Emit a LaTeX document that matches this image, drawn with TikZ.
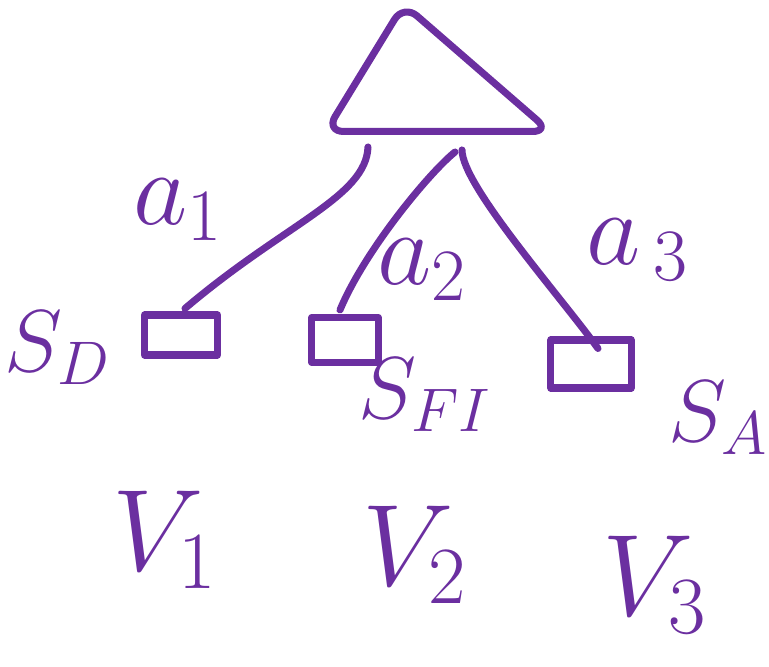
\RequirePackage{fix-cm}
\documentclass[tikz,border=0pt]{standalone}
\usetikzlibrary{positioning,shapes.geometric}
\definecolor{Pen}{HTML}{6B2FA0}
\tikzset{
  pen/.style={draw=Pen,line width=2pt,line cap=round,line join=round},
  leaf/.style={pen,rectangle,inner sep=0pt},
  lbl/.style={text=Pen,inner sep=0pt},
}
\newcommand{\fsz}[1]{\fontsize{#1}{#1}\selectfont}

\begin{document}
\begin{tikzpicture}[x=0.01cm,y=-0.01cm]
  \useasboundingbox (0,0) rectangle (769,667);
  % root
  \node[pen,isosceles triangle,shape border rotate=90,
        isosceles triangle stretches,rounded corners=5pt,
        minimum width=2.24cm,minimum height=1.27cm,inner sep=0pt,
        transform shape,xslant=-0.27,anchor=south] (root) at (439,135) {};
  % leaves
  \node[leaf,minimum width=0.73cm,minimum height=0.40cm] (v1) at (181,335) {};
  \node[leaf,minimum width=0.66cm,minimum height=0.45cm] (v2) at (345,340) {};
  \node[leaf,minimum width=0.80cm,minimum height=0.48cm] (v3) at (591,364) {};
  % edges
  \draw[pen] ([shift={(-71,12)}]root.south)
        .. controls +(-2,50) and +(100,-85) .. ([shift={(4,-3)}]v1.north);
  \draw[pen] ([shift={(16,17)}]root.south)
        .. controls +(-25,20) and +(25,-60) .. ([shift={(-5,-4)}]v2.north);
  \draw[pen] ([shift={(23,15)}]root.south)
        .. controls +(0,35) and +(-40,-55) .. ([shift={(7,12)}]v3.north);
  % edge labels
  \node[lbl,font=\fsz{30}] (a1) at (178,210) {$a_1$};
  \node[lbl,font=\fsz{30}] (a2) at (422,270) {$a_2$};
  \node[lbl,font=\fsz{30}] (a3) at (638,250) {$a_{\,3}$};
  % leaf labels
  \node[lbl,font=\fsz{25}] (s1) at (58,348) {$S_D$};
  \node[lbl,font=\fsz{25}] (s2) at (425,395) {$S_{FI}$};
  \node[lbl,font=\fsz{25}] (s3) at (718,418) {$S_A$};
  \node[lbl,font=\fsz{33}] (n1) at (165,540) {$V_1$};
  \node[lbl,font=\fsz{33}] (n2) at (415,555) {$V_2$};
  \node[lbl,font=\fsz{33}] (n3) at (655,585) {$V_3$};
\end{tikzpicture}
\end{document}
